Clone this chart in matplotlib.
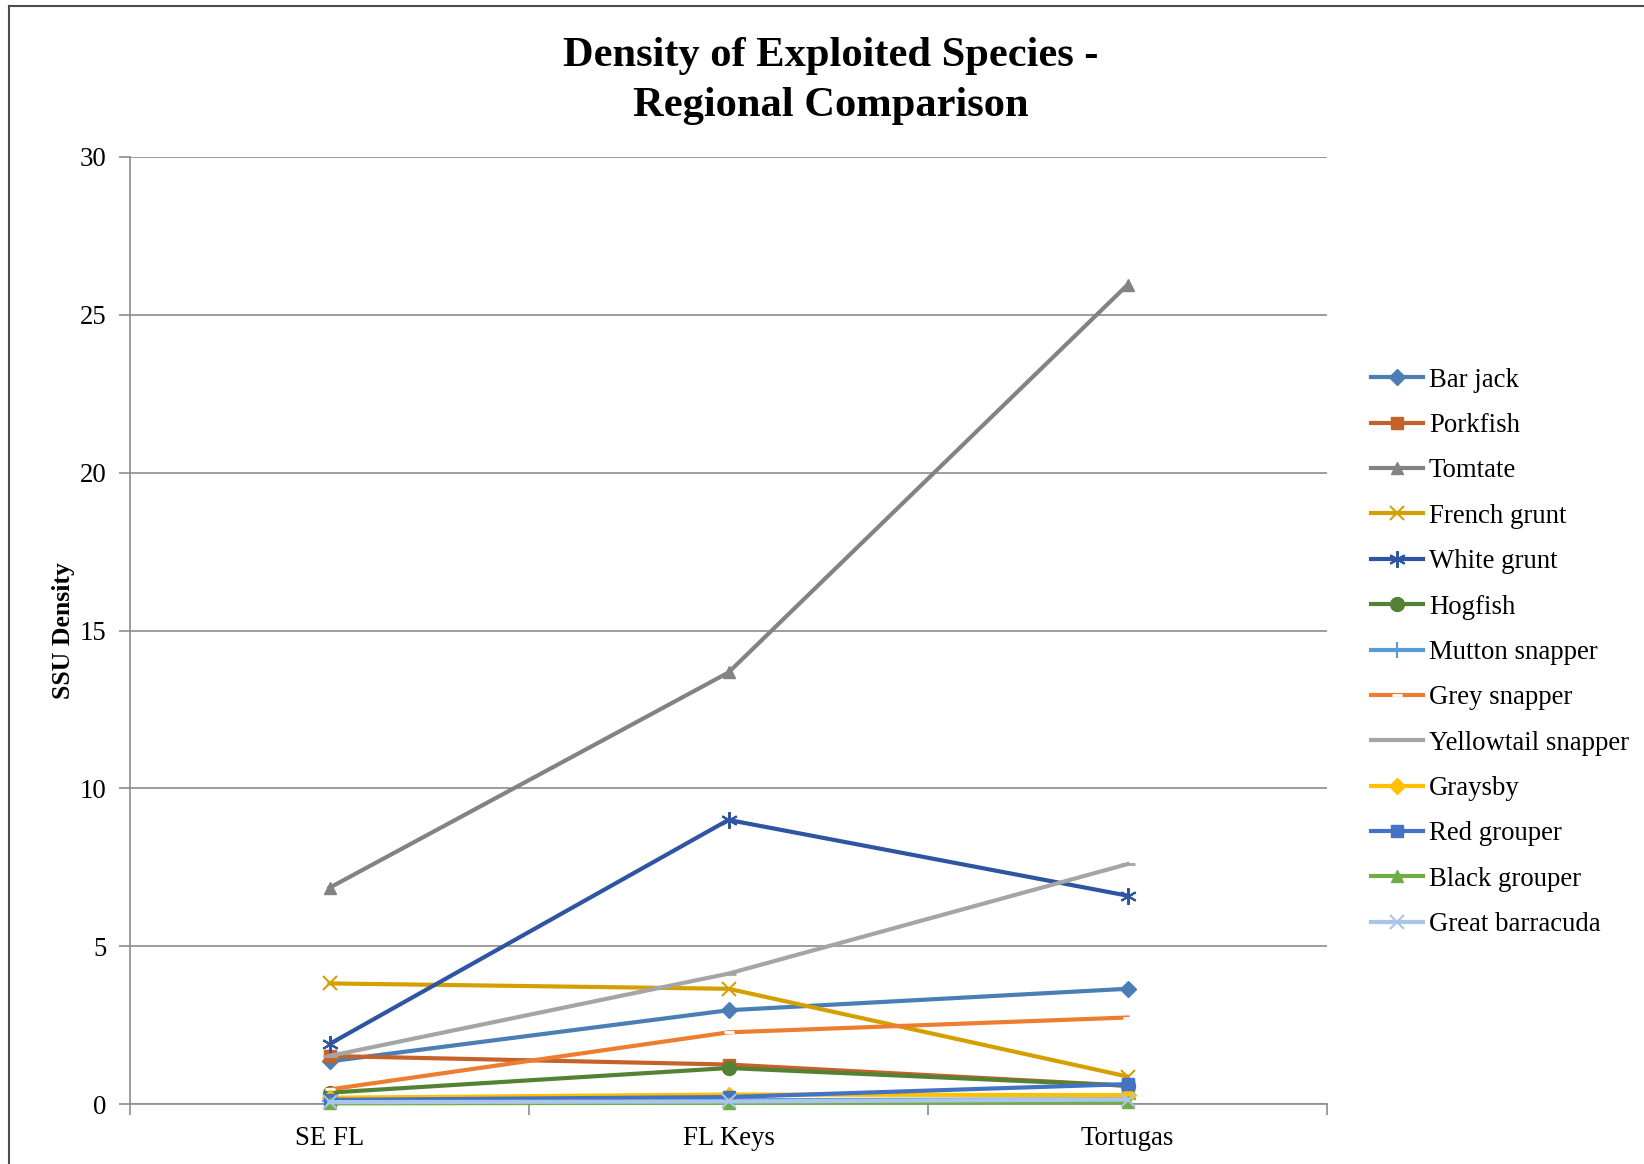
import matplotlib
matplotlib.use("Agg")
import matplotlib.pyplot as plt
from matplotlib.lines import Line2D

regions = ["SE FL", "FL Keys", "Tortugas"]

species = [
    "Bar jack", "Porkfish", "Tomtate", "French grunt", "White grunt", "Hogfish",
    "Mutton snapper", "Grey snapper", "Yellowtail snapper", "Graysby",
    "Red grouper", "Black grouper", "Great barracuda",
]

bar_jack = [1.35, 2.97, 3.65]
porkfish = [1.52, 1.25, 0.58]
tomtate = [6.85, 13.67, 25.95]
french_grunt = [3.82, 3.65, 0.87]
white_grunt = [1.90, 9.00, 6.60]
hogfish = [0.36, 1.14, 0.58]
mutton_snapper = [0.10, 0.12, 0.15]
grey_snapper = [0.46, 2.27, 2.74]
yellowtail_snapper = [1.52, 4.13, 7.60]
graysby = [0.20, 0.30, 0.28]
red_grouper = [0.13, 0.22, 0.63]
black_grouper = [0.02, 0.04, 0.05]
great_barracuda = [0.06, 0.08, 0.14]

values = [bar_jack, porkfish, tomtate, french_grunt, white_grunt, hogfish,
          mutton_snapper, grey_snapper, yellowtail_snapper, graysby,
          red_grouper, black_grouper, great_barracuda]

colors = ["#4A7EB5", "#C5622A", "#838383", "#D4A000", "#2F55A2", "#548235",
          "#5B9BD5", "#ED7D31", "#A5A5A5", "#FFC000", "#4472C4", "#70AD47",
          "#A9C5E9"]
markers = ["D", "s", "^", "x", (6, 2, 0), "o", "+", "_", "_", "D", "s", "^", "x"]
msizes = [8, 9, 9, 10, 12, 10, 11, 7, 10, 8, 9, 9, 10]

plt.rcParams["font.family"] = ["Liberation Serif", "DejaVu Serif"]

fig = plt.figure(figsize=(16.44, 11.64), dpi=100)
ax = fig.add_axes([130 / 1644, 1 - 1104 / 1164, (1327 - 130) / 1644, (1104 - 157) / 1164])

x = list(range(len(regions)))
handles = []
for name, vals, c, m, ms in zip(species, values, colors, markers, msizes):
    mec = "white" if name == "Grey snapper" else c
    if m in ("x", "+", (6, 2, 0)):
        mew = 1.5
    elif m == "_":
        mew = 2
    else:
        mew = 1
    ln, = ax.plot(x, vals, color=c, lw=3, marker=m, markersize=ms,
                  markerfacecolor=c, markeredgecolor=mec, markeredgewidth=mew,
                  label=name, clip_on=False, zorder=3)
    handles.append(ln)

ax.set_xlim(-0.5, 2.5)
ax.set_ylim(0, 30)
ax.set_yticks(range(0, 31, 5))
ax.set_xticks(x)
ax.set_xticklabels(regions, fontsize=19.3)
ax.set_xticks([-0.5, 0.5, 1.5, 2.5], minor=True)
ax.tick_params(axis="x", which="major", length=0, pad=16)
ax.tick_params(axis="x", which="minor", length=8, color="#8C8C8C", width=1.2)
ax.tick_params(axis="y", length=8, color="#8C8C8C", width=1.2, labelsize=19.3, pad=9)
ax.grid(axis="y", color="#8C8C8C", lw=1.2, zorder=0)
ax.set_axisbelow(True)
for s in ["top", "right"]:
    ax.spines[s].set_visible(False)
for s in ["left", "bottom"]:
    ax.spines[s].set_color("#8C8C8C")
    ax.spines[s].set_linewidth(1.2)

ax.set_ylabel("SSU Density", fontsize=18.5, fontweight="bold")
ax.yaxis.set_label_coords(-0.046, 0.5)

fig.text(831 / 1644, 1 - 81 / 1164, "Density of Exploited Species -\nRegional Comparison",
         ha="center", va="center", fontsize=30.6, fontweight="bold", linespacing=1.39)

ax.legend(handles=handles, loc="upper left", bbox_to_anchor=(1360 / 1644, 1 - 357 / 1164),
          bbox_transform=fig.transFigure, frameon=False, fontsize=19.3,
          handlelength=1.95, handletextpad=0.22, labelspacing=0.76, borderaxespad=0)

# chart area border (top and left edges)
fig.add_artist(Line2D([9 / 1644, 1], [1 - 6 / 1164, 1 - 6 / 1164], color="#4D4D4D", lw=1.5,
                      transform=fig.transFigure))
fig.add_artist(Line2D([9 / 1644, 9 / 1644], [0, 1 - 6 / 1164], color="#4D4D4D", lw=1.5,
                      transform=fig.transFigure))

fig.savefig("out.png", dpi=100)
